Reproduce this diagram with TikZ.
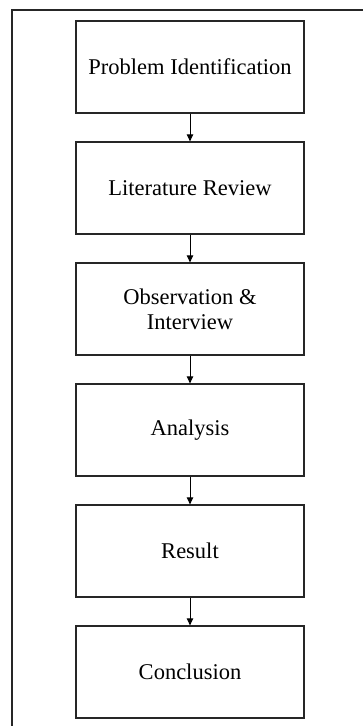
\documentclass[tikz,border=0pt]{standalone}
\usepackage{fontspec}
\setmainfont{Liberation Serif}
\usetikzlibrary{arrows.meta}
\begin{document}
\begin{tikzpicture}[x=1pt,y=-1pt,
  stagebox/.style={draw=black!85, line width=1.3pt, minimum width=228pt, minimum height=92pt,
    inner sep=0pt, align=center, font=\fontsize{22.5}{25}\selectfont},
  flowarrow/.style={draw=black, line width=0.9pt, -{Triangle[length=7pt,width=6.5pt]}}]
\useasboundingbox (0,0) rectangle (363,726);
\begin{scope}
\clip (0,0) rectangle (363,726);
\draw[line width=2pt, black!85] (12.3,740) -- (12.3,10.3) -- (375,10.3);
\end{scope}
\node[stagebox] (p) at (190,67) {Problem Identification};
\node[stagebox] (l) at (190,188) {Literature Review};
\node[stagebox] (o) at (190,309) {Observation \&\\Interview};
\node[stagebox] (a) at (190,430) {Analysis};
\node[stagebox] (r) at (190,551) {Result};
\node[stagebox] (c) at (190,672) {Conclusion};
\draw[flowarrow] (p) -- (l);
\draw[flowarrow] (l) -- (o);
\draw[flowarrow] (o) -- (a);
\draw[flowarrow] (a) -- (r);
\draw[flowarrow] (r) -- (c);
\end{tikzpicture}
\end{document}
